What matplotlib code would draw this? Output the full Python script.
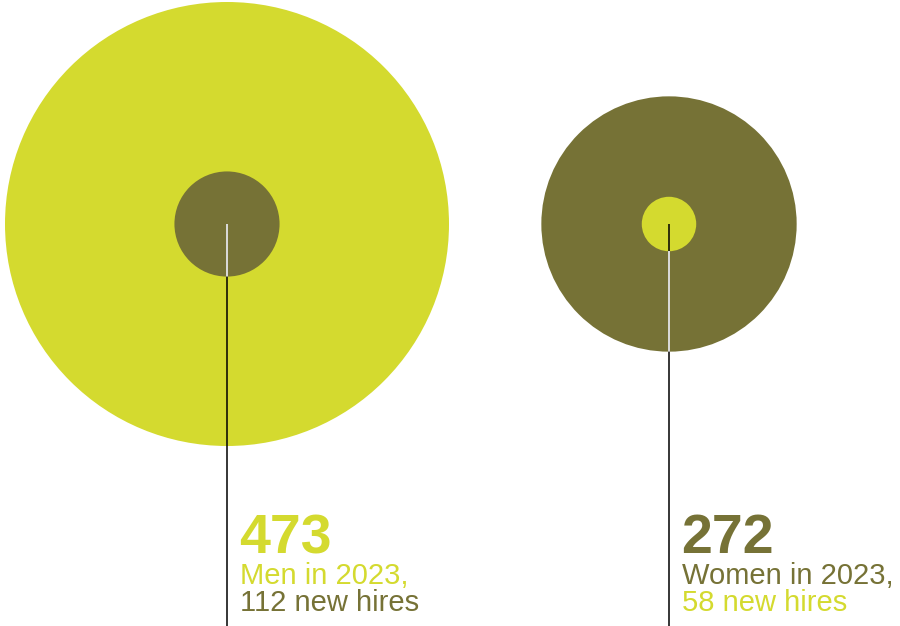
import matplotlib.pyplot as plt
from matplotlib.patches import Circle

# data
groups = ['Men', 'Women']
totals = [473, 272]
new_hires = [112, 58]
year = 2023

lime = '#d4da2f'
olive = '#767236'
outer_colors = [lime, olive]
inner_colors = [olive, lime]

# layout (pixels)
centers_x = [227, 669]
center_y = 224
px_per_person = 222 / 473   # radius grows linearly with headcount

fig = plt.figure(figsize=(9, 6.26), dpi=100)
ax = fig.add_axes([0, 0, 1, 1])
ax.set_xlim(0, 900)
ax.set_ylim(626, 0)
ax.set_aspect('equal')
ax.axis('off')

for i, g in enumerate(groups):
    cx = centers_x[i]
    r_out = totals[i] * px_per_person
    r_in = new_hires[i] * px_per_person
    outer = Circle((cx, center_y), r_out, color=outer_colors[i], lw=0, zorder=1)
    inner = Circle((cx, center_y), r_in, color=inner_colors[i], lw=0, zorder=2)
    ax.add_patch(outer)
    ax.add_patch(inner)

    # black leader line, white where it crosses the dark circle
    ax.plot([cx, cx], [center_y, 626], color='black', lw=1.1, zorder=3,
            solid_capstyle='butt')
    dark = inner if inner_colors[i] == olive else outer
    white, = ax.plot([cx, cx], [center_y, 626], color='white', lw=1.2, zorder=4,
                     solid_capstyle='butt')
    if dark is outer:
        # only the part of the dark ring outside the light inner circle
        white.set_data([cx, cx], [center_y + r_in, 626])
    white.set_clip_path(dark)

    tx = cx + 12
    ax.text(tx, 553, f'{totals[i]}', color=outer_colors[i], fontsize=40,
            fontweight='bold', family='Liberation Sans', ha='left', va='baseline')
    ax.text(tx + 1, 584, f'{g} in {year},', color=outer_colors[i], fontsize=21,
            family='Liberation Sans', ha='left', va='baseline')
    ax.text(tx + 1, 611, f'{new_hires[i]} new hires', color=inner_colors[i],
            fontsize=21, family='Liberation Sans', ha='left', va='baseline')

fig.savefig('out.png', dpi=100, facecolor='white')
